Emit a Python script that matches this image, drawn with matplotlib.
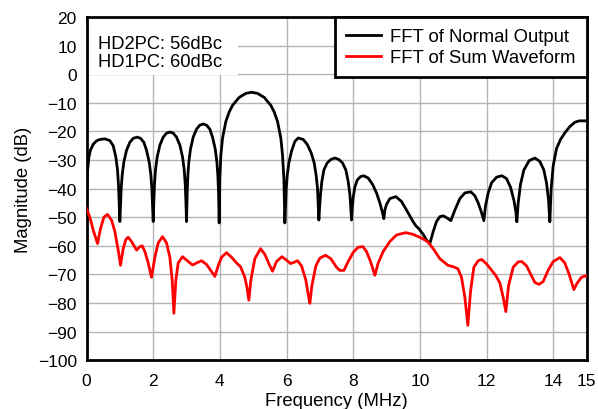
import matplotlib.pyplot as plt
from matplotlib.patches import Rectangle

plt.rcParams['font.family'] = ['Liberation Sans', 'DejaVu Sans']

# FFT of normal output (MHz, dB)
normal_freq = [
    0.00, 0.03, 0.07, 0.12, 0.20, 0.30, 0.40, 0.55, 0.70, 0.80, 0.88, 0.93, 0.96, 0.98, 1.00,
    1.02, 1.04, 1.07, 1.12, 1.20, 1.30, 1.40, 1.52, 1.62, 1.72, 1.80, 1.88, 1.93, 1.96, 1.98, 2.00,
    2.02, 2.04, 2.07, 2.12, 2.20, 2.30, 2.40, 2.50, 2.60, 2.70, 2.80, 2.88, 2.93, 2.96, 2.98, 3.00,
    3.02, 3.04, 3.07, 3.12, 3.20, 3.30, 3.40, 3.50, 3.60, 3.70, 3.78, 3.86, 3.91, 3.94, 3.96, 3.98,
    4.00, 4.03, 4.08, 4.18, 4.28, 4.38, 4.58, 4.78, 4.95, 5.13, 5.33, 5.53, 5.63, 5.73, 5.83, 5.88, 5.92, 5.95,
    5.97, 5.99, 6.02, 6.07, 6.15, 6.25, 6.35, 6.50, 6.62, 6.74, 6.83, 6.89, 6.93, 6.95, 6.97,
    6.99, 7.02, 7.06, 7.12, 7.22, 7.33, 7.45, 7.57, 7.68, 7.78, 7.85, 7.90, 7.93, 7.95,
    7.97, 8.00, 8.05, 8.12, 8.22, 8.32, 8.45, 8.58, 8.70, 8.80, 8.87, 8.92,
    8.95, 9.00, 9.10, 9.28, 9.45, 9.60, 9.72, 9.80, 9.88, 9.97, 10.10, 10.20, 10.30,
    10.40, 10.50, 10.60, 10.70, 10.82, 10.93, 11.05, 11.20, 11.35, 11.53, 11.65, 11.75, 11.84, 11.92,
    11.97, 12.05, 12.15, 12.30, 12.46, 12.60, 12.72, 12.82, 12.88, 12.91,
    12.95, 13.02, 13.12, 13.28, 13.45, 13.60, 13.72, 13.80, 13.86, 13.90,
    13.94, 14.00, 14.10, 14.22, 14.35, 14.50, 14.65, 14.78, 15.00,
]
normal_db = [
    -43.5, -34.0, -29.0, -26.5, -24.5, -23.3, -22.8, -22.6, -23.2, -25.0, -29.0, -33.5, -39.0, -45.0, -51.5,
    -46.0, -40.0, -35.2, -30.7, -26.6, -23.8, -22.4, -22.0, -22.4, -23.8, -26.6, -30.7, -35.2, -40.0, -46.0, -51.5,
    -44.2, -38.2, -33.4, -28.9, -24.8, -22.0, -20.6, -20.2, -20.6, -22.0, -24.8, -28.9, -33.4, -38.2, -44.2, -51.5,
    -41.4, -35.4, -30.6, -26.1, -22.0, -19.2, -17.8, -17.4, -17.8, -19.2, -22.0, -26.1, -30.6, -35.4, -41.4, -52.0,
    -36.3, -28.3, -22.4, -16.5, -13.2, -10.9, -8.1, -6.7, -6.3, -6.7, -8.1, -10.9, -13.2, -16.5, -22.4, -28.3, -36.3, -52.0,
    -46.0, -40.0, -35.5, -31.0, -26.9, -23.5, -22.3, -22.8, -24.5, -27.5, -31.0, -35.5, -40.0, -46.0, -51.0,
    -47.0, -42.0, -37.5, -33.5, -31.0, -29.8, -29.3, -29.8, -31.0, -33.5, -37.5, -42.0, -47.0, -51.0,
    -47.0, -43.0, -39.5, -37.0, -35.8, -35.5, -36.3, -38.5, -41.5, -45.0, -48.0, -50.5,
    -47.5, -45.5, -43.5, -42.8, -44.5, -47.5, -50.0, -51.6, -53.0, -54.0, -56.0, -58.0, -59.2,
    -55.0, -51.5, -49.8, -49.5, -50.3, -51.2, -47.5, -43.5, -41.5, -41.1, -42.5, -45.0, -48.0, -51.2,
    -46.0, -41.5, -38.0, -36.0, -35.5, -36.5, -39.5, -44.0, -48.0, -51.6,
    -45.0, -38.5, -33.5, -30.2, -29.3, -30.5, -33.5, -38.0, -44.0, -51.6,
    -40.0, -32.0, -26.0, -22.8, -20.5, -18.3, -16.8, -16.3, -16.3,
]

# FFT of sum waveform (MHz, dB)
sum_freq = [
    0.00, 0.10, 0.20, 0.33, 0.42, 0.52, 0.63, 0.75, 0.85, 0.95, 1.02, 1.10, 1.18, 1.25, 1.35,
    1.50, 1.60, 1.67, 1.75, 1.85, 1.95, 2.05, 2.15, 2.28, 2.40, 2.50, 2.57, 2.62, 2.68, 2.75,
    2.88, 3.00, 3.18, 3.30, 3.45, 3.60, 3.75, 3.85, 3.95, 4.05, 4.20, 4.35, 4.50, 4.62, 4.75,
    4.82, 4.87, 4.93, 5.05, 5.22, 5.35, 5.48, 5.58, 5.70, 5.86, 6.00, 6.12, 6.22, 6.33, 6.45,
    6.58, 6.65, 6.70, 6.76, 6.88, 7.00, 7.17, 7.33, 7.50, 7.60, 7.72, 7.85, 8.00, 8.15, 8.29,
    8.40, 8.52, 8.65, 8.75, 8.90, 9.10, 9.30, 9.58, 9.80, 10.05, 10.24, 10.40, 10.60, 10.84, 11.00,
    11.14, 11.25, 11.35, 11.44, 11.52, 11.62, 11.75, 11.86, 12.00, 12.15, 12.28, 12.40, 12.50, 12.58, 12.66,
    12.80, 12.95, 13.06, 13.20, 13.35, 13.45, 13.57, 13.70, 13.85, 14.00, 14.20, 14.35, 14.48, 14.62, 14.72,
    14.85, 15.00,
]
sum_db = [
    -47.0, -50.0, -54.5, -59.2, -54.0, -50.0, -49.0, -51.0, -55.0, -61.5, -66.8, -61.0, -57.8, -57.0, -58.5,
    -61.5, -60.3, -60.0, -62.0, -66.0, -71.0, -64.0, -59.0, -56.8, -59.0, -64.0, -72.0, -83.6, -72.0, -66.0,
    -63.8, -65.0, -66.7, -66.0, -65.2, -66.5, -69.0, -70.7, -67.0, -64.0, -62.4, -64.0, -66.0, -67.3, -71.0,
    -75.0, -79.0, -72.0, -64.5, -61.0, -63.0, -66.5, -68.9, -65.5, -63.8, -65.0, -66.2, -65.8, -65.2, -67.0,
    -72.0, -77.0, -80.1, -74.0, -67.0, -64.3, -63.3, -64.5, -67.5, -68.6, -68.6, -65.5, -62.3, -60.5, -60.3,
    -62.0, -65.5, -70.3, -66.0, -62.0, -58.5, -56.2, -55.4, -56.0, -57.3, -58.6, -61.0, -64.5, -66.8, -67.3,
    -68.0, -71.0, -78.0, -87.8, -76.0, -67.5, -65.2, -64.8, -66.3, -68.5, -70.4, -73.0, -78.0, -83.0, -74.0,
    -67.5, -65.6, -65.5, -67.0, -70.5, -72.8, -73.5, -72.5, -68.5, -65.5, -64.1, -66.0, -70.0, -75.3, -73.0,
    -71.0, -70.4,
]

x_ticks = [0, 2, 4, 6, 8, 10, 12, 14, 15]
y_ticks = list(range(-100, 21, 10))
note_lines = ["HD2PC: 56dBc", "HD1PC: 60dBc"]

fig = plt.figure(figsize=(5.98, 4.10), dpi=100)
ax = fig.add_axes([0.1447, 0.119, 0.8361, 0.837])

ax.plot(normal_freq, normal_db, color='black', linewidth=2, label='FFT of Normal Output', zorder=3)
ax.plot(sum_freq, sum_db, color='#ff0000', linewidth=2, label='FFT of Sum Waveform', zorder=3)

ax.set_xlim(0, 15)
ax.set_ylim(-100, 20)
ax.set_xticks(x_ticks)
ax.set_yticks(y_ticks)
ax.tick_params(axis='y', length=0, labelsize=12.5, pad=7)
ax.tick_params(axis='x', length=0, labelsize=12.5, pad=9)
ax.grid(True, color='#b4b4b4', linewidth=1)
for s in ax.spines.values():
    s.set_linewidth(2)

ax.set_xlabel('Frequency (MHz)', fontsize=13.3, labelpad=3)
ax.set_ylabel('Magnitude (dB)', fontsize=13.3, labelpad=4)

# white box behind the harmonic note
ax.add_patch(Rectangle((0.05, -0.4), 4.5, 20.3, facecolor='white', edgecolor='none', zorder=2))
ax.text(0.35, 7.6, "\n".join(note_lines), fontsize=13.2, va='center', ha='left',
        linespacing=1.15, zorder=4)

leg = ax.legend(loc='upper right', bbox_to_anchor=(1.0, 1.0), borderaxespad=0,
                fontsize=13.3, fancybox=False, framealpha=1, edgecolor='black',
                handlelength=1.9, labelspacing=0.22, borderpad=0.6, handletextpad=0.5)
leg.get_frame().set_linewidth(2)
leg.set_zorder(5)

plt.savefig('out.png', dpi=100)
